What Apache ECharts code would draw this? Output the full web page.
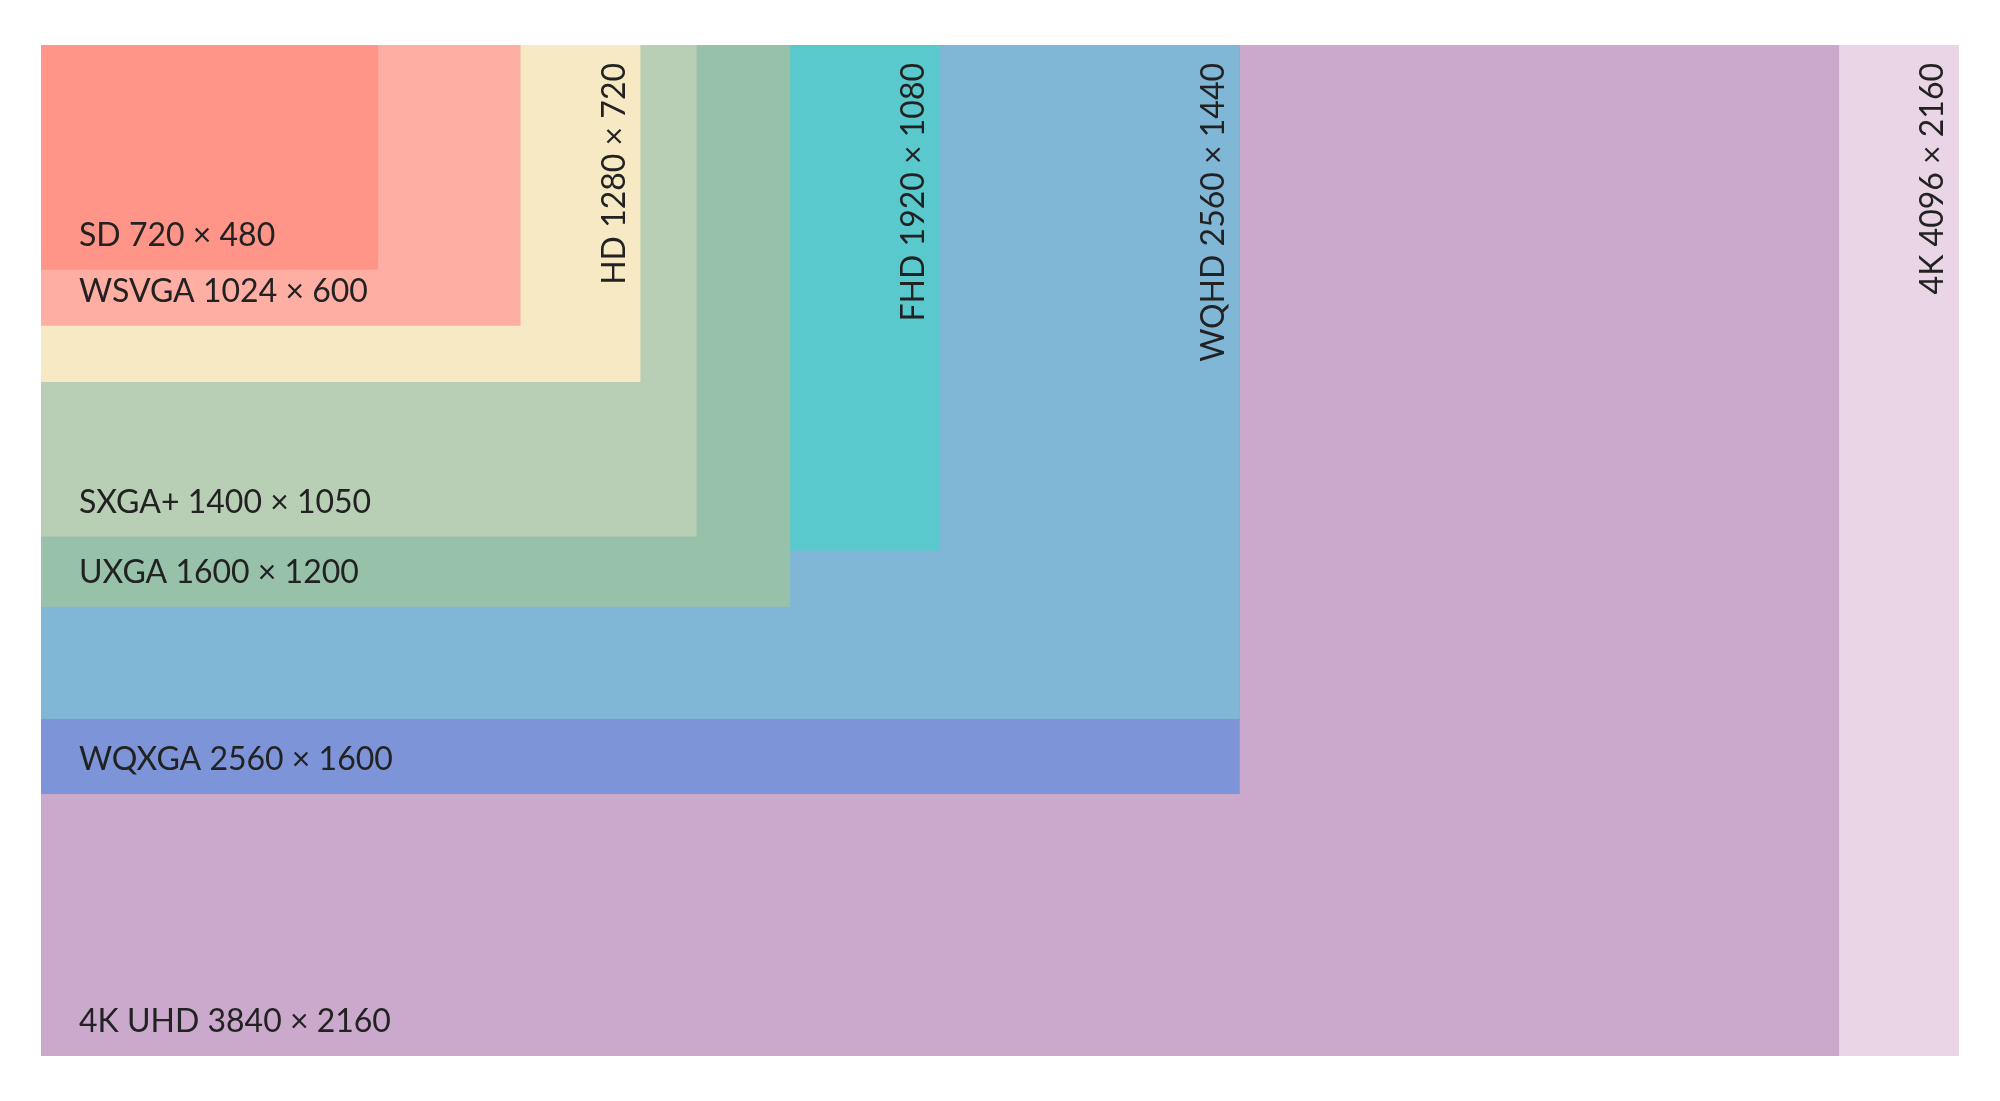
<!DOCTYPE html>
<html><head><meta charset="utf-8">
<script src="https://cdn.jsdelivr.net/npm/echarts@6/dist/echarts.min.js"></script>
<style>html,body{margin:0;padding:0;background:#fff}#c{width:2000px;height:1101px}</style>
</head><body><div id="c"></div>
<script>
const names = ['4K','4K UHD','WQXGA','WQHD','FHD','UXGA','SXGA+','HD','WSVGA','SD'];
const widths = [4096,3840,2560,2560,1920,1600,1400,1280,1024,720];
const heights = [2160,2160,1600,1440,1080,1200,1050,720,600,480];
const vertical = [true,false,false,true,true,false,false,true,false,false];
const colors = ['#ead5e6','#cba9cc','#7d94d8','#80b6d6','#59c9cd','#98c1aa','#b8cfb6','#f6e9c3','#ffaea4','#ff9588'];
const data = names.map((n,i)=>[widths[i],heights[i],i]);
const chart = echarts.init(document.getElementById('c'));
chart.setOption({
  animation:false,
  grid:{left:41,right:41,top:45,bottom:45},
  xAxis:{type:'value',min:0,max:4096,show:false},
  yAxis:{type:'value',min:0,max:2160,inverse:true,show:false},
  series:[{
    type:'custom',
    data:data,
    renderItem:function(params,api){
      const i=api.value(2);
      const p0=api.coord([0,0]);
      const p1=api.coord([api.value(0),api.value(1)]);
      const label=names[i]+' '+widths[i]+' × '+heights[i];
      const txt = vertical[i]
        ? {type:'text',x:p1[0]-10,y:p0[1]+18,rotation:Math.PI/2,
           style:{text:label,fill:'#222',font:'32px Lato',textAlign:'right',textVerticalAlign:'bottom'}}
        : {type:'text',x:p0[0]+38,y:p1[1]-18,
           style:{text:label,fill:'#222',font:'32px Lato',textAlign:'left',textVerticalAlign:'bottom'}};
      return {type:'group',children:[
        {type:'rect',shape:{x:p0[0],y:p0[1],width:p1[0]-p0[0],height:p1[1]-p0[1]},style:{fill:colors[i]}},
        txt
      ]};
    }
  }]
});
</script></body></html>
